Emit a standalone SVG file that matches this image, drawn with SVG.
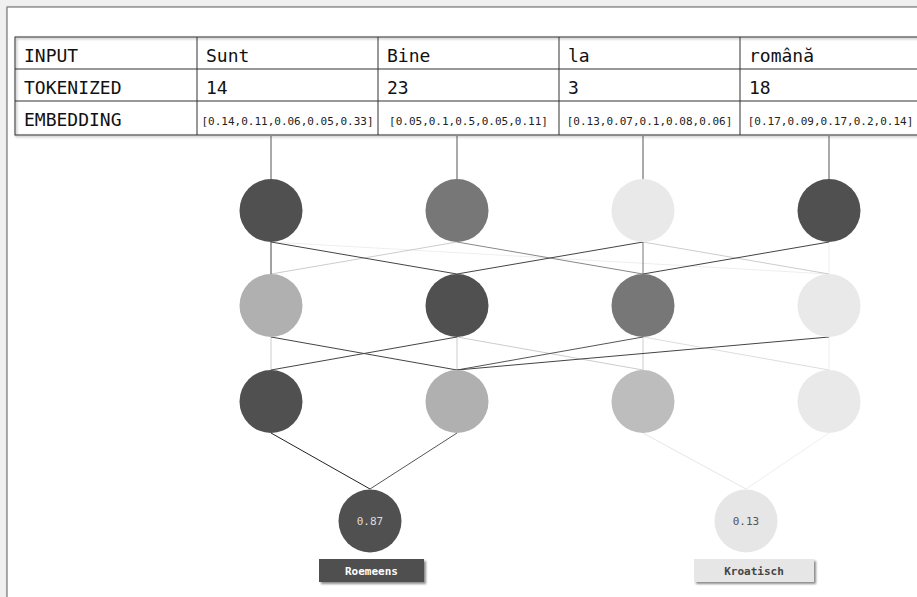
<svg xmlns="http://www.w3.org/2000/svg" width="917" height="597" viewBox="0 0 917 597">
  <defs>
    <filter id="shadow" x="-5%" y="-5%" width="110%" height="120%">
      <feDropShadow dx="1.2" dy="1.2" stdDeviation="0.8" flood-color="#000" flood-opacity="0.45"/>
    </filter>
    <filter id="tagShadow" x="-10%" y="-20%" width="125%" height="150%">
      <feDropShadow dx="2" dy="2" stdDeviation="1" flood-color="#000" flood-opacity="0.45"/>
    </filter>
  </defs>
  <style>
    .mono { font-family: "DejaVu Sans Mono", "Liberation Mono", monospace; }
    .head { font-size: 18px; fill: #111; }
    .emb { font-size: 11px; fill: #222; text-anchor: middle; }
    .grid { stroke: #333; stroke-width: 1; fill: none; }
    .feed { stroke: #555; stroke-width: 1; }
    .edge { stroke-width: 1; fill: none; }
    .prob { font-size: 11px; text-anchor: middle; }
    .tag { font-size: 11px; font-weight: bold; text-anchor: middle; }
  </style>

  <!-- page background and panel -->
  <rect x="0" y="0" width="917" height="597" fill="#f0f0f0"/>
  <rect x="7" y="7" width="930" height="610" fill="#ffffff" stroke="#777" stroke-width="1.2" filter="url(#shadow)"/>

  <!-- token table -->
  <g id="table">
    <g filter="url(#shadow)">
      <rect x="15" y="37" width="906" height="98" fill="#fff" class="grid"/>
    </g>
    <g class="grid">
      <line x1="15" y1="69" x2="921" y2="69"/>
      <line x1="15" y1="101" x2="921" y2="101"/>
      <line x1="197" y1="37" x2="197" y2="135"/>
      <line x1="378" y1="37" x2="378" y2="135"/>
      <line x1="559" y1="37" x2="559" y2="135"/>
      <line x1="740" y1="37" x2="740" y2="135"/>
    </g>
    <g class="mono head">
      <text x="24" y="62">INPUT</text>
      <text x="24" y="94">TOKENIZED</text>
      <text x="24" y="126">EMBEDDING</text>
      <text x="206" y="62">Sunt</text>
      <text x="206" y="94">14</text>
      <text x="387" y="62">Bine</text>
      <text x="387" y="94">23</text>
      <text x="568" y="62">la</text>
      <text x="568" y="94">3</text>
      <text x="749" y="62">română</text>
      <text x="749" y="94">18</text>
    </g>
    <g class="mono emb">
      <text x="287.5" y="125">[0.14,0.11,0.06,0.05,0.33]</text>
      <text x="468.5" y="125">[0.05,0.1,0.5,0.05,0.11]</text>
      <text x="649.5" y="125">[0.13,0.07,0.1,0.08,0.06]</text>
      <text x="830.5" y="125">[0.17,0.09,0.17,0.2,0.14]</text>
    </g>
  </g>

  <!-- connectors -->
  <g id="connectors">
    <!-- embeddings into first layer -->
    <line class="feed" x1="271" y1="136" x2="271" y2="179"/>
    <line class="feed" x1="457" y1="136" x2="457" y2="179"/>
    <line class="feed" x1="643" y1="136" x2="643" y2="179"/>
    <line class="feed" x1="829" y1="136" x2="829" y2="179"/>

    <!-- layer 1 to layer 2 -->
    <line class="edge" stroke="#eeeeee" x1="271" y1="242" x2="829" y2="274"/>
    <line class="edge" stroke="#eeeeee" x1="829" y1="242" x2="829" y2="274"/>
    <line class="edge" stroke="#cccccc" x1="457" y1="242" x2="271" y2="274"/>
    <line class="edge" stroke="#cccccc" x1="643" y1="242" x2="829" y2="274"/>
    <line class="edge" stroke="#888888" x1="457" y1="242" x2="643" y2="274"/>
    <line class="edge" stroke="#777777" x1="643" y1="242" x2="643" y2="274"/>
    <line class="edge" stroke="#444444" x1="271" y1="242" x2="271" y2="274"/>
    <line class="edge" stroke="#444444" x1="271" y1="242" x2="457" y2="274"/>
    <line class="edge" stroke="#444444" x1="643" y1="242" x2="457" y2="274"/>
    <line class="edge" stroke="#444444" x1="829" y1="242" x2="643" y2="274"/>

    <!-- layer 2 to layer 3 -->
    <line class="edge" stroke="#eeeeee" x1="829" y1="337" x2="829" y2="370"/>
    <line class="edge" stroke="#dddddd" x1="643" y1="337" x2="829" y2="370"/>
    <line class="edge" stroke="#cccccc" x1="271" y1="337" x2="271" y2="370"/>
    <line class="edge" stroke="#cccccc" x1="457" y1="337" x2="457" y2="370"/>
    <line class="edge" stroke="#cccccc" x1="457" y1="337" x2="643" y2="370"/>
    <line class="edge" stroke="#cccccc" x1="643" y1="337" x2="643" y2="370"/>
    <line class="edge" stroke="#444444" x1="271" y1="337" x2="457" y2="370"/>
    <line class="edge" stroke="#444444" x1="457" y1="337" x2="271" y2="370"/>
    <line class="edge" stroke="#555555" x1="643" y1="337" x2="457" y2="370"/>
    <line class="edge" stroke="#444444" x1="829" y1="337" x2="457" y2="370"/>

    <!-- layer 3 to outputs -->
    <line class="edge" stroke="#222222" x1="271" y1="433" x2="370" y2="489"/>
    <line class="edge" stroke="#555555" x1="457" y1="433" x2="370" y2="489"/>
    <line class="edge" stroke="#e6e6e6" x1="643" y1="433" x2="746" y2="489"/>
    <line class="edge" stroke="#eeeeee" x1="829" y1="433" x2="746" y2="489"/>
  </g>

  <!-- layer 1 -->
  <g id="l1n1"><circle cx="271" cy="210.5" r="31.5" fill="#505050"/></g>
  <g id="l1n2"><circle cx="457" cy="210.5" r="31.5" fill="#777777"/></g>
  <g id="l1n3"><circle cx="643" cy="210.5" r="31.5" fill="#e9e9e9"/></g>
  <g id="l1n4"><circle cx="829" cy="210.5" r="31.5" fill="#505050"/></g>

  <!-- layer 2 -->
  <g id="l2n1"><circle cx="271" cy="305.5" r="31.5" fill="#b0b0b0"/></g>
  <g id="l2n2"><circle cx="457" cy="305.5" r="31.5" fill="#505050"/></g>
  <g id="l2n3"><circle cx="643" cy="305.5" r="31.5" fill="#777777"/></g>
  <g id="l2n4"><circle cx="829" cy="305.5" r="31.5" fill="#e9e9e9"/></g>

  <!-- layer 3 -->
  <g id="l3n1"><circle cx="271" cy="401.5" r="31.5" fill="#505050"/></g>
  <g id="l3n2"><circle cx="457" cy="401.5" r="31.5" fill="#b0b0b0"/></g>
  <g id="l3n3"><circle cx="643" cy="401.5" r="31.5" fill="#bdbdbd"/></g>
  <g id="l3n4"><circle cx="829" cy="401.5" r="31.5" fill="#e9e9e9"/></g>

  <!-- outputs -->
  <g id="out1">
    <circle cx="370" cy="521" r="31.5" fill="#505050"/>
    <text class="mono prob" x="370" y="525" fill="#dddddd">0.87</text>
  </g>
  <g id="out2">
    <circle cx="746" cy="521" r="31.5" fill="#e6e6e6"/>
    <text class="mono prob" x="746" y="525" fill="#555555">0.13</text>
  </g>

  <!-- class tags -->
  <g id="tag1">
    <rect x="319" y="559" width="105" height="23" fill="#505050" filter="url(#tagShadow)"/>
    <text class="mono tag" x="371.5" y="575" fill="#ffffff">Roemeens</text>
  </g>
  <g id="tag2">
    <rect x="694" y="559" width="120" height="23" fill="#e6e6e6" filter="url(#tagShadow)"/>
    <text class="mono tag" x="754" y="575" fill="#444444">Kroatisch</text>
  </g>
</svg>
